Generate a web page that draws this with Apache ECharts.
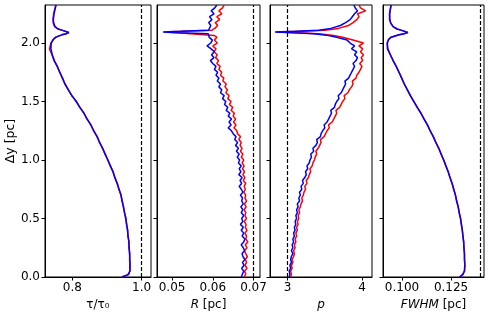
<!DOCTYPE html>
<html><head><meta charset="utf-8">
<script src="https://cdn.jsdelivr.net/npm/echarts@6/dist/echarts.min.js"></script>
<style>html,body{margin:0;padding:0;background:#fff}#c{width:490px;height:316px}</style>
</head><body><div id="c"></div>
<script>
// smooth-panel y positions (pc)
const ySmooth = [0,0.02,0.05,0.1,0.15,0.2,0.25,0.3,0.35,0.4,0.45,0.5,0.55,0.6,0.65,0.7,0.75,0.8,0.85,0.9,0.95,1.0,1.05,1.1,1.15,1.2,1.25,1.3,1.35,1.4,1.45,1.5,1.55,1.6,1.65,1.7,1.75,1.8,1.85,1.9,1.95,2.0,2.03,2.05,2.07,2.08,2.09,2.1,2.11,2.12,2.14,2.17,2.2,2.25,2.3,2.325];
const tauRed  = [0.942,0.960,0.966,0.967,0.965,0.966,0.963,0.964,0.960,0.960,0.956,0.955,0.950,0.948,0.943,0.941,0.934,0.930,0.922,0.918,0.909,0.903,0.894,0.888,0.878,0.872,0.861,0.854,0.842,0.834,0.821,0.812,0.798,0.789,0.778,0.772,0.763,0.757,0.747,0.741,0.734,0.738,0.744,0.752,0.769,0.782,0.789,0.784,0.769,0.758,0.749,0.745,0.744,0.746,0.750,0.752];
const tauBlue = [0.945,0.962,0.966,0.966,0.966,0.965,0.964,0.963,0.961,0.959,0.957,0.954,0.951,0.947,0.944,0.940,0.935,0.929,0.923,0.917,0.910,0.902,0.895,0.887,0.879,0.871,0.862,0.853,0.843,0.833,0.822,0.811,0.799,0.788,0.779,0.771,0.764,0.756,0.748,0.742,0.738,0.739,0.745,0.753,0.770,0.783,0.790,0.785,0.770,0.759,0.750,0.746,0.745,0.747,0.751,0.753];
const fwhmRed  = [0.1292,0.1308,0.1319,0.1321,0.1318,0.1319,0.1315,0.1315,0.1310,0.1308,0.1302,0.1299,0.1291,0.1287,0.1278,0.1273,0.1263,0.1256,0.1244,0.1236,0.1223,0.1213,0.1199,0.1188,0.1172,0.1160,0.1143,0.1130,0.1112,0.1097,0.1077,0.1061,0.1042,0.1028,0.1011,0.0999,0.0984,0.0971,0.0954,0.0941,0.0925,0.0924,0.0931,0.0944,0.0984,0.1011,0.1029,0.1021,0.0994,0.0974,0.0954,0.0942,0.0936,0.0936,0.0941,0.0944];
const fwhmBlue = [0.1295,0.1310,0.1318,0.1320,0.1319,0.1318,0.1316,0.1314,0.1311,0.1307,0.1303,0.1298,0.1292,0.1286,0.1279,0.1272,0.1264,0.1255,0.1245,0.1235,0.1224,0.1212,0.1200,0.1187,0.1173,0.1159,0.1144,0.1129,0.1113,0.1096,0.1078,0.1060,0.1043,0.1027,0.1012,0.0998,0.0985,0.0970,0.0955,0.0940,0.0928,0.0925,0.0932,0.0945,0.0985,0.1012,0.1030,0.1022,0.0995,0.0975,0.0955,0.0943,0.0938,0.0937,0.0942,0.0945];

// noisy-panel y positions (pc)
const yFine = [0,0.025,0.05,0.075,0.1,0.125,0.15,0.175,0.2,0.225,0.25,0.275,0.3,0.325,0.35,0.375,0.4,0.425,0.45,0.475,0.5,0.525,0.55,0.575,0.6,0.625,0.65,0.675,0.7,0.725,0.75,0.775,0.8,0.825,0.85,0.875,0.9,0.925,0.95,0.975,1.0,1.025,1.05,1.075,1.1,1.125,1.15,1.175,1.2,1.225,1.25,1.275,1.3,1.325,1.35,1.375,1.4,1.425,1.45,1.475,1.5,1.525,1.55,1.575,1.6,1.625,1.65,1.675,1.7,1.725,1.75,1.775,1.8,1.825,1.85,1.875,1.9,1.925,1.95,1.975,2.0,2.025,2.05,2.065,2.08,2.09,2.095,2.1,2.11,2.125,2.15,2.175,2.2,2.225,2.25,2.275,2.3,2.325];
const rRed = [0.0677,0.0681,0.0678,0.0684,0.0679,0.0683,0.0680,0.0685,0.0681,0.0678,0.0684,0.0680,0.0686,0.0681,0.0683,0.0679,0.0684,0.0680,0.0682,0.0677,0.0683,0.0679,0.0681,0.0677,0.0682,0.0678,0.0683,0.0679,0.0681,0.0676,0.0680,0.0677,0.0681,0.0675,0.0679,0.0674,0.0678,0.0673,0.0677,0.0672,0.0676,0.0670,0.0674,0.0668,0.0672,0.0667,0.0670,0.0664,0.0668,0.0661,0.0659,0.0652,0.0657,0.0651,0.0656,0.0650,0.0653,0.0645,0.0649,0.0641,0.0645,0.0637,0.0640,0.0632,0.0636,0.0630,0.0633,0.0625,0.0627,0.0619,0.0622,0.0615,0.0618,0.0610,0.0614,0.0607,0.0611,0.0603,0.0608,0.0600,0.0611,0.0604,0.0610,0.0603,0.0600,0.0505,0.0482,0.0525,0.0598,0.0605,0.0612,0.0606,0.0617,0.0610,0.0622,0.0615,0.0624,0.0628];
const rBlue = [0.0670,0.0673,0.0676,0.0671,0.0677,0.0673,0.0679,0.0674,0.0672,0.0678,0.0675,0.0670,0.0676,0.0679,0.0672,0.0676,0.0670,0.0675,0.0668,0.0674,0.0671,0.0676,0.0670,0.0674,0.0669,0.0675,0.0671,0.0673,0.0668,0.0674,0.0670,0.0665,0.0671,0.0667,0.0672,0.0664,0.0669,0.0665,0.0670,0.0663,0.0666,0.0660,0.0665,0.0658,0.0663,0.0656,0.0661,0.0654,0.0657,0.0650,0.0646,0.0638,0.0645,0.0640,0.0646,0.0638,0.0642,0.0633,0.0637,0.0629,0.0632,0.0624,0.0628,0.0619,0.0622,0.0615,0.0619,0.0611,0.0615,0.0608,0.0612,0.0604,0.0608,0.0600,0.0594,0.0603,0.0597,0.0604,0.0596,0.0586,0.0595,0.0599,0.0591,0.0594,0.0589,0.0500,0.0478,0.0520,0.0590,0.0588,0.0595,0.0590,0.0598,0.0592,0.0603,0.0596,0.0605,0.0610];
const pRed = [3.04,3.05,3.04,3.06,3.05,3.07,3.06,3.08,3.09,3.08,3.10,3.09,3.11,3.10,3.12,3.11,3.13,3.12,3.14,3.13,3.15,3.14,3.16,3.15,3.17,3.18,3.20,3.19,3.21,3.22,3.24,3.23,3.26,3.25,3.28,3.29,3.31,3.30,3.33,3.34,3.36,3.37,3.39,3.38,3.41,3.43,3.45,3.44,3.49,3.51,3.53,3.56,3.55,3.60,3.62,3.64,3.66,3.65,3.70,3.72,3.74,3.77,3.76,3.81,3.83,3.86,3.88,3.87,3.92,3.93,3.96,3.98,4.00,3.97,4.01,3.99,4.02,3.98,4.01,3.96,4.02,3.88,3.74,3.62,3.42,3.05,2.85,3.18,3.50,3.68,3.82,3.88,3.93,3.96,3.94,4.05,3.98,3.96];
const pBlue = [3.02,3.03,3.02,3.04,3.03,3.05,3.04,3.05,3.07,3.05,3.07,3.06,3.08,3.07,3.09,3.08,3.10,3.09,3.11,3.10,3.12,3.11,3.13,3.12,3.14,3.13,3.16,3.15,3.17,3.16,3.19,3.18,3.21,3.20,3.23,3.25,3.24,3.27,3.26,3.29,3.30,3.32,3.31,3.35,3.34,3.38,3.40,3.39,3.44,3.45,3.47,3.50,3.49,3.53,3.55,3.57,3.59,3.58,3.63,3.64,3.66,3.69,3.68,3.72,3.74,3.76,3.78,3.77,3.82,3.84,3.86,3.88,3.90,3.88,3.92,3.94,3.90,3.93,3.86,3.90,3.84,3.80,3.66,3.55,3.35,3.00,2.83,3.10,3.42,3.58,3.71,3.78,3.84,3.87,3.90,3.94,3.91,3.89];

// reference (dashed) values and tick labels
const refLines = [1.0, 0.0703, 3.0, 0.1393];
const yTicks = [0, 0.5, 1.0, 1.5, 2.0];
const xTicks = [[0.8, 1.0], [0.05, 0.06, 0.07], [3, 4], [0.100, 0.125]];
const xDecimals = [1, 2, 0, 3];
const xRanges = [[0.721, 1.027], [0.0463, 0.0716], [2.762, 4.135], [0.0903, 0.1418]];
const xNames = ['τ/τ₀', '{i|R} [pc]', '{i|p}', '{i|FWHM} [pc]'];

const chart = echarts.init(document.getElementById('c'), null, {renderer: 'canvas'});
const FONT = 'DejaVu Sans';
const grids = [
  {left: 45, top: 5, width: 106, height: 272},
  {left: 157, top: 5, width: 103, height: 272},
  {left: 270, top: 5, width: 102, height: 272},
  {left: 383, top: 5, width: 101, height: 272}
].map(g => Object.assign({show: true, borderColor: '#000', borderWidth: 1, backgroundColor: 'transparent'}, g));

const pair = (xs, ys) => xs.map((v, i) => [v, ys[i]]);
const panels = [
  [tauRed, tauBlue, ySmooth],
  [rRed, rBlue, yFine],
  [pRed, pBlue, yFine],
  [fwhmRed, fwhmBlue, ySmooth]
];

const xAxes = [], yAxes = [], series = [];
for (let k = 0; k < 4; k++) {
  xAxes.push({
    type: 'value', gridIndex: k, min: xRanges[k][0], max: xRanges[k][1],
    splitLine: {show: false},
    axisLine: {show: true, lineStyle: {color: '#000', width: 1}},
    axisTick: {show: true, length: 3.5, lineStyle: {color: '#000'}, customValues: xTicks[k]},
    axisLabel: {show: true, color: '#000', fontFamily: FONT, fontSize: 12, margin: 5,
      customValues: xTicks[k], formatter: v => Number(v).toFixed(xDecimals[k])},
    name: xNames[k], nameLocation: 'middle', nameGap: 20,
    nameTextStyle: {color: '#000', fontFamily: FONT, fontSize: 12,
      rich: {i: {fontStyle: 'italic', fontFamily: FONT, fontSize: 12, color: '#000'}}}
  });
  yAxes.push({
    type: 'value', gridIndex: k, min: 0, max: 2.325,
    splitLine: {show: false},
    axisLine: {show: true, lineStyle: {color: '#000', width: 1}},
    axisTick: {show: true, length: 3.5, lineStyle: {color: '#000'}, customValues: yTicks},
    axisLabel: {show: k === 0, color: '#000', fontFamily: FONT, fontSize: 12, margin: 5,
      customValues: yTicks, formatter: v => Number(v).toFixed(1)},
    name: k === 0 ? 'Δy [pc]' : '', nameLocation: 'middle', nameGap: 28, nameRotate: 90,
    nameTextStyle: {color: '#000', fontFamily: FONT, fontSize: 12.5}
  });
  const [red, blue, ys] = panels[k];
  series.push({
    type: 'line', xAxisIndex: k, yAxisIndex: k, data: pair(red, ys),
    showSymbol: false, symbol: 'none', lineStyle: {color: '#ff0000', width: 1.5}, itemStyle: {color: '#ff0000'},
    animation: false, silent: true,
    markLine: {silent: true, symbol: 'none', animation: false, label: {show: false},
      lineStyle: {color: '#000', width: 1.2, type: [4, 2]}, data: [{xAxis: refLines[k]}]}
  });
  series.push({
    type: 'line', xAxisIndex: k, yAxisIndex: k, data: pair(blue, ys),
    showSymbol: false, symbol: 'none', lineStyle: {color: '#0000ff', width: 1.5}, itemStyle: {color: '#0000ff'},
    animation: false, silent: true
  });
}

chart.setOption({
  animation: false,
  backgroundColor: '#fff',
  grid: grids, xAxis: xAxes, yAxis: yAxes, series: series
});
</script></body></html>
